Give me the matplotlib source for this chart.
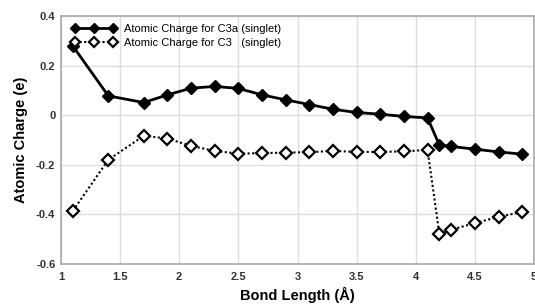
import numpy as np
import matplotlib
matplotlib.use("Agg")
import matplotlib.pyplot as plt

plt.rcParams['font.family'] = ['Liberation Sans', 'DejaVu Sans']

# bond lengths (Angstrom)
bond = [1.1, 1.4, 1.7, 1.9, 2.1, 2.3, 2.5, 2.7, 2.9, 3.1, 3.3, 3.5, 3.7, 3.9, 4.1,
        4.2, 4.3, 4.5, 4.7, 4.9]
# atomic charges
c3a = [0.279, 0.078, 0.051, 0.082, 0.109, 0.116, 0.108, 0.082, 0.062, 0.043,
       0.024, 0.011, 0.004, -0.005, -0.011, -0.121, -0.126, -0.137, -0.148, -0.157]
c3 = [-0.386, -0.180, -0.083, -0.094, -0.124, -0.144, -0.155, -0.153, -0.151, -0.149,
      -0.144, -0.148, -0.148, -0.146, -0.140, -0.480, -0.462, -0.435, -0.410, -0.390]

label_a = "Atomic Charge for C3a (singlet)"
label_b = "Atomic Charge for C3   (singlet)"

fig = plt.figure(figsize=(5.35, 3.05), dpi=100)
ax = fig.add_axes([61/535, 1-264/305, 473/535, 248/305])

ax.plot(bond, c3a, color="black", lw=2, marker="D", ms=6, mfc="black", mec="black",
        label=label_a, zorder=3)
ax.plot(bond, c3, color="black", lw=1.5, ls=(0, (1, 1.2)), marker="D", ms=6,
        mfc="white", mec="black", mew=1.6, label=label_b, zorder=3)

ax.set_xlim(1, 5)
ax.set_ylim(-0.6, 0.4)
ax.set_xticks(np.arange(1, 5.01, 0.5))
ax.set_yticks(np.arange(-0.6, 0.41, 0.2))
ax.set_xticklabels(["1", "1.5", "2", "2.5", "3", "3.5", "4", "4.5", "5"])
ax.set_yticklabels(["-0.6", "-0.4", "-0.2", "0", "0.2", "0.4"])
ax.tick_params(length=0, labelsize=8, colors="#333333")
ax.tick_params(axis="y", pad=4)
ax.tick_params(axis="x", pad=6)
for t in ax.get_xticklabels() + ax.get_yticklabels():
    t.set_fontweight("bold")
ax.grid(True, color="#dddddd", lw=1)
ax.set_axisbelow(True)
for s in ax.spines.values():
    s.set_color("#aaaaaa")
    s.set_linewidth(1.2)

ax.set_xlabel("Bond Length (Å)", fontsize=10.5, fontweight="bold", labelpad=3)
ax.set_ylabel("Atomic Charge (e)", fontsize=10.5, fontweight="bold")
ax.yaxis.set_label_coords(-33/473, 0.5)

ax.legend(loc="upper left", frameon=False, numpoints=3, fontsize=8, handlelength=4.0,
          borderaxespad=0.3, labelspacing=0.35, handletextpad=0.7, markerscale=0.85,
          bbox_to_anchor=(0.006, 1.0))

fig.savefig("out.png", dpi=100)
